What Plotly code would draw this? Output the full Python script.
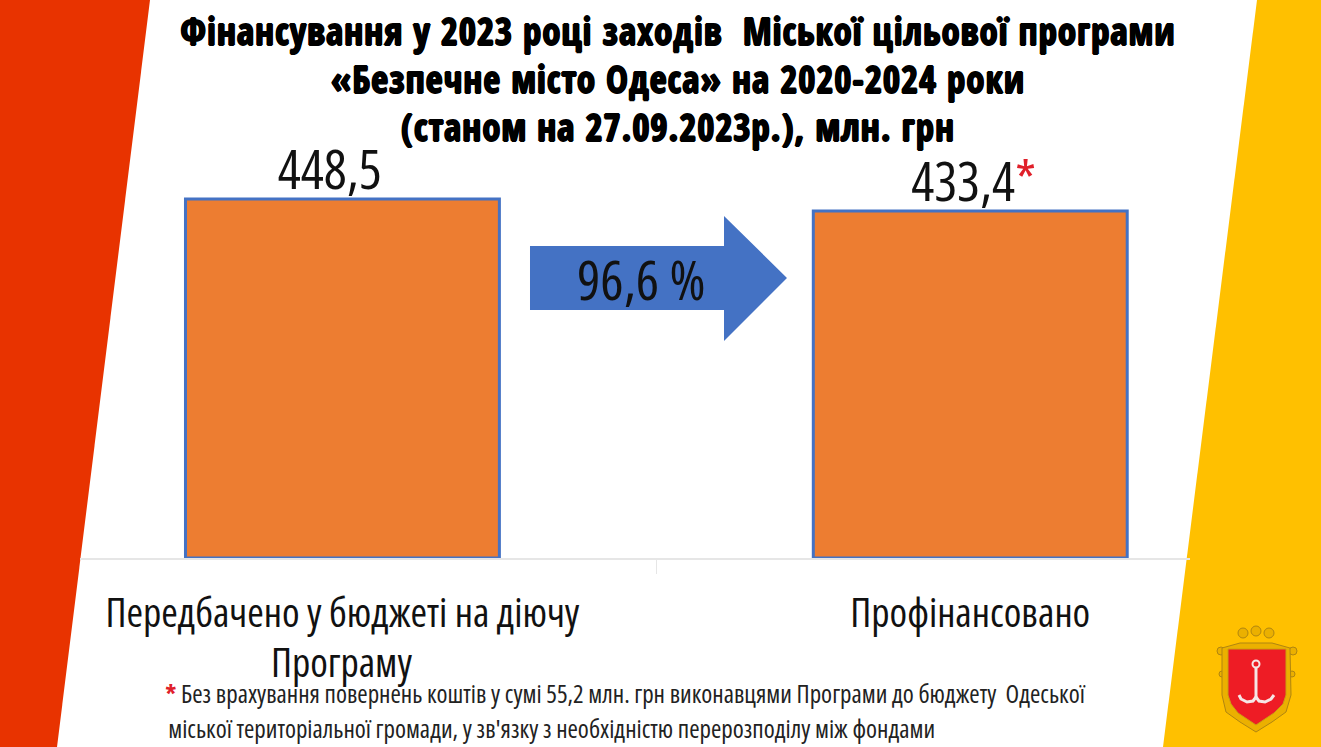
import plotly.graph_objects as go

categories = ["Передбачено у бюджеті на діючу", "Профінансовано"]
category_line2 = "Програму"
values = [448.5, 433.4]
value_labels = ["448,5", "433,4<span style=\"color:#E0202A\">*</span>"]
title_text = ("Фінансування у 2023 році заходів  Міської цільової програми<br>"
              "«Безпечне місто Одеса» на 2020-2024 роки<br>"
              "(станом на 27.09.2023р.), млн. грн")
arrow_text = "96,6 %"
note_line1 = "<span style=\"color:#E0202A\"><b>*</b></span> Без врахування повернень коштів у сумі 55,2 млн. грн виконавцями Програми до бюджету  Одеської"
note_line2 = "міської територіальної громади, у зв'язку з необхідністю перерозподілу між фондами"

W, H = 1321, 747
FONT = "Open Sans"
TITLE_FONT = "Open Sans Condensed"


def fx(x):
    return x / W


def fy(y):
    return 1 - y / H


def poly(points, fill, line=None, lw=0):
    d = "M " + " L ".join(f"{fx(x):.5f},{fy(y):.5f}" for x, y in points) + " Z"
    return dict(type="path", xref="paper", yref="paper", path=d, fillcolor=fill,
                line=dict(color=line or fill, width=lw), layer="below")


def curve(d_points, color, lw):
    d = "M " + " L ".join(f"{fx(x):.5f},{fy(y):.5f}" for x, y in d_points)
    return dict(type="path", xref="paper", yref="paper", path=d,
                line=dict(color=color, width=lw), layer="above")


def dot(x, y, r, fill, line, lw=1, layer="below"):
    return dict(type="circle", xref="paper", yref="paper", x0=fx(x - r), x1=fx(x + r),
                y0=fy(y + r), y1=fy(y - r), fillcolor=fill, line=dict(color=line, width=lw), layer=layer)


GOLD = "#EBB000"
GOLD_DARK = "#B08510"
ANCHOR = "#F6E6E6"

shapes = [
    poly([(0, 0), (150, 0), (57, 747), (0, 747)], "#E83300"),
    poly([(1257, 0), (1321, 0), (1321, 747), (1163, 747)], "#FFC000"),
    # arrow between bars
    poly([(530, 246), (724, 246), (724, 216), (787, 278), (724, 341), (724, 310), (530, 310)],
         "#4472C4"),
    # emblem: crown
    dot(1243, 633, 5, GOLD, GOLD_DARK),
    dot(1256, 631, 5, GOLD, GOLD_DARK),
    dot(1269, 633, 5, GOLD, GOLD_DARK),
    # emblem: side scrolls
    dot(1221, 651, 4, GOLD, GOLD_DARK),
    dot(1293, 651, 4, GOLD, GOLD_DARK),
    dot(1222, 674, 3, GOLD, GOLD_DARK),
    dot(1292, 674, 3, GOLD, GOLD_DARK),
    # emblem: gold frame
    poly([(1222, 648), (1240, 643), (1272, 643), (1290, 648), (1291, 695), (1286, 712), (1272, 722),
          (1256, 732), (1240, 722), (1226, 712), (1222, 695)], GOLD, GOLD_DARK, 1),
    # emblem: shield
    poly([(1228, 649), (1286, 649), (1286, 695), (1283, 704), (1274, 713), (1262, 721), (1256, 725),
          (1250, 721), (1238, 713), (1231, 704), (1228, 695)], "#EE1C25", "#C9A010", 1),
    # emblem: anchor
    dot(1256, 664, 3.5, "rgba(0,0,0,0)", ANCHOR, 2, "above"),
    curve([(1256, 668), (1256, 698)], ANCHOR, 3),
    curve([(1239, 695), (1241, 699), (1247, 702), (1253, 701), (1256, 697), (1259, 701), (1265, 702),
           (1271, 699), (1274, 695)], ANCHOR, 3),
]

fig = go.Figure(
    go.Bar(
        x=categories,
        y=values,
        width=0.5,
        marker=dict(color="#ED7D31", line=dict(color="#4472C4", width=3)),
        cliponaxis=False,
        hoverinfo="skip",
    )
)

annotations = [
    dict(xref="x", yref="y", x=categories[0], y=values[0], text=value_labels[0], showarrow=False,
         xanchor="center", yanchor="bottom", xshift=-13, yshift=-8,
         font=dict(family=FONT, size=54, color="#111111")),
    dict(xref="x", yref="y", x=categories[1], y=values[1], text=value_labels[1], showarrow=False,
         xanchor="center", yanchor="bottom", xshift=3, yshift=-8,
         font=dict(family=FONT, size=54, color="#111111")),
    dict(xref="paper", yref="paper", x=fx(641), y=fy(278), xanchor="center", yanchor="middle",
         text=arrow_text, showarrow=False, font=dict(family=FONT, size=55, color="#111111")),
    dict(xref="paper", yref="paper", x=fx(342), y=fy(661), xanchor="center", yanchor="middle",
         text=category_line2, showarrow=False, font=dict(family=FONT, size=40, color="#111111")),
    dict(xref="paper", yref="paper", x=fx(625), y=fy(693), xanchor="center", yanchor="middle",
         text=note_line1, showarrow=False, font=dict(family=FONT, size=25, color="#222222")),
    dict(xref="paper", yref="paper", x=fx(551), y=fy(728), xanchor="center", yanchor="middle",
         text=note_line2, showarrow=False, font=dict(family=FONT, size=25, color="#222222")),
]

fig.update_layout(
    width=W,
    height=H,
    margin=dict(l=0, r=0, t=0, b=0),
    paper_bgcolor="#FFFFFF",
    plot_bgcolor="rgba(0,0,0,0)",
    showlegend=False,
    shapes=shapes,
    annotations=annotations,
    title=dict(
        text=title_text,
        x=fx(678),
        xanchor="center",
        y=fy(45),
        yanchor="middle",
        font=dict(family=TITLE_FONT, size=37, color="#000000",
                  shadow="0.8px 0 0 #000, -0.8px 0 0 #000, 0 0.8px 0 #000, 0 -0.8px 0 #000"),
    ),
    xaxis=dict(
        domain=[fx(80), fx(1190)],
        range=[-0.418, 1.35],
        type="category",
        showline=True,
        linecolor="#E6E6E6",
        linewidth=1.5,
        showgrid=False,
        ticks="outside",
        tickson="boundaries",
        ticklen=14,
        tickcolor="#E6E6E6",
        tickangle=0,
        automargin=False,
        tickfont=dict(family=FONT, size=40, color="#111111"),
        ticklabelstandoff=19,
    ),
    yaxis=dict(domain=[fy(558), fy(140)], range=[0, 522.2], visible=False, automargin=False),
)

squeeze = """
document.body.style.margin='0';
document.querySelectorAll('.xtick text, .annotation-text').forEach(function(t){
  t.style.fontStretch='75%';
});
document.querySelectorAll('.gtitle').forEach(function(t){
  t.style.letterSpacing='0.9px';
});
"""
fig.write_html("out.html", post_script=squeeze, config=dict(displayModeBar=False))
